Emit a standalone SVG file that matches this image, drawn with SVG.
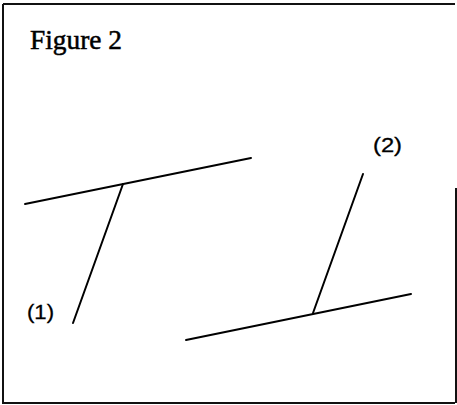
<svg xmlns="http://www.w3.org/2000/svg" width="457" height="405" viewBox="0 0 457 405">
<style>
.ln{stroke:#000;stroke-width:2;stroke-linecap:round;fill:none}
.fr{stroke:#111;stroke-width:2;fill:none}
.lb{font-family:"Liberation Sans",Arial,sans-serif;font-size:21px;fill:#000;stroke:#000;stroke-width:0.3}
.tt{font-family:"Liberation Serif","Times New Roman",serif;font-size:27px;fill:#000;stroke:#000;stroke-width:0.5}
</style>
<rect width="457" height="405" fill="#fff"/>
<g id="frame">
<path class="fr" d="M3,4 H455 M3,4 V403 H455 M456,188 V403"/>
</g>
<text class="tt" x="30" y="49" textLength="92" lengthAdjust="spacingAndGlyphs">Figure 2</text>
<g id="connectors">
<g id="node1">
<line class="ln" x1="25" y1="204" x2="251" y2="158"/>
<line class="ln" x1="123" y1="184" x2="73" y2="323"/>
<text class="lb" x="27" y="319" textLength="27" lengthAdjust="spacingAndGlyphs">(1)</text>
</g>
<g id="node2">
<line class="ln" x1="186" y1="340" x2="411" y2="294"/>
<line class="ln" x1="363" y1="174" x2="313" y2="313"/>
<text class="lb" x="373" y="152" textLength="29" lengthAdjust="spacingAndGlyphs">(2)</text>
</g>
</g>
</svg>
